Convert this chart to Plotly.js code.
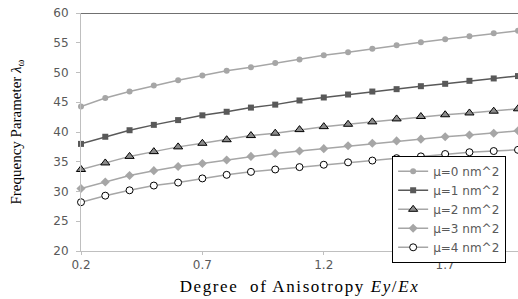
<!DOCTYPE html>
<html><head><meta charset="utf-8">
<script src="https://cdn.plot.ly/plotly-3.0.1.min.js"></script>
<style>html,body{margin:0;padding:0;background:#fff}#chart{width:518px;height:299px}
.xtitle{letter-spacing:1.6px}</style>
</head><body><div id="chart"></div>
<script>
const ratio = [0.2,0.3,0.4,0.5,0.6,0.7,0.8,0.9,1.0,1.1,1.2,1.3,1.4,1.5,1.6,1.7,1.8,1.9,2.0];
const mu0 = [44.3,45.7,46.8,47.8,48.7,49.5,50.3,50.9,51.6,52.2,52.9,53.4,54.0,54.6,55.1,55.6,56.1,56.6,57.0];
const mu1 = [38.0,39.2,40.3,41.2,42.0,42.8,43.4,44.1,44.6,45.3,45.8,46.3,46.8,47.2,47.7,48.1,48.6,49.0,49.4];
const mu2 = [33.7,34.8,35.9,36.7,37.5,38.1,38.7,39.4,39.8,40.4,40.9,41.3,41.7,42.2,42.6,42.9,43.2,43.5,43.9];
const mu3 = [30.5,31.6,32.7,33.5,34.2,34.7,35.3,35.9,36.4,36.8,37.2,37.7,38.1,38.5,38.8,39.2,39.5,39.8,40.2];
const mu4 = [28.2,29.3,30.2,31.0,31.5,32.2,32.8,33.3,33.7,34.1,34.5,34.9,35.2,35.6,35.9,36.3,36.6,36.8,37.0];
const names = ['μ=0 nm^2','μ=1 nm^2','μ=2 nm^2','μ=3 nm^2','μ=4 nm^2'];
const xTicks = [0.2,0.7,1.2,1.7];
const xTickText = ['0.2','0.7','1.2','1.7'];

const traces = [
  {x:ratio,y:mu0,name:names[0],mode:'lines+markers',line:{color:'#a6a6a6',width:1.5},marker:{symbol:'circle',size:6,color:'#a6a6a6'}},
  {x:ratio,y:mu1,name:names[1],mode:'lines+markers',line:{color:'#595959',width:1.5},marker:{symbol:'square',size:6,color:'#595959'}},
  {x:ratio,y:mu2,name:names[2],mode:'lines+markers',line:{color:'#a6a6a6',width:1.5},marker:{symbol:'triangle-up',size:8,color:'#8c8c8c',line:{color:'#000',width:1}}},
  {x:ratio,y:mu3,name:names[3],mode:'lines+markers',line:{color:'#a6a6a6',width:1.5},marker:{symbol:'diamond',size:7,color:'#a6a6a6'}},
  {x:ratio,y:mu4,name:names[4],mode:'lines+markers',line:{color:'#a6a6a6',width:1.5},marker:{symbol:'circle',size:7,color:'#ffffff',line:{color:'#000',width:1}}}
];
traces.forEach(t=>{t.cliponaxis=false;});

const tickFont = {family:'DejaVu Sans, Verdana, sans-serif',size:12,color:'#595959'};
const layout = {
  width:518,height:299,
  margin:{l:81,r:0,t:13,b:48},
  paper_bgcolor:'#fff',plot_bgcolor:'#fff',
  showlegend:true,
  legend:{x:0.712,y:0.40,xanchor:'left',yanchor:'top',bordercolor:'#000',borderwidth:1,bgcolor:'#fff',
    font:{family:'DejaVu Sans, Verdana, sans-serif',size:12,color:'#595959'},itemwidth:30,tracegroupgap:0},
  xaxis:{range:[0.2,2.0],tickvals:xTicks,ticktext:xTickText,showgrid:false,zeroline:false,
    showline:true,linecolor:'#bfbfbf',linewidth:1,ticks:'outside',ticklen:3,tickcolor:'#bfbfbf',
    tickfont:tickFont,
    title:{text:'Degree  of Anisotropy <i>Ey</i>/<i>Ex</i>',font:{family:'Liberation Serif, Times New Roman, serif',size:17,color:'#000'},standoff:8}},
  yaxis:{range:[20,60],dtick:5,showgrid:false,zeroline:false,
    showline:true,linecolor:'#bfbfbf',linewidth:1,ticks:'outside',ticklen:4,tickcolor:'#bfbfbf',
    tickfont:tickFont,ticklabelstandoff:5,
    title:{text:'Frequency Parameter <i>λ</i><sub>ω</sub>',font:{family:'Liberation Serif, Times New Roman, serif',size:15,color:'#000'},standoff:28}},
  shapes:[{type:'line',xref:'paper',yref:'y',x0:0,x1:1,y0:60,y1:60,line:{color:'#404040',width:1.5}}]
};
Plotly.newPlot('chart',traces,layout,{displayModeBar:false,staticPlot:true});
</script></body></html>
